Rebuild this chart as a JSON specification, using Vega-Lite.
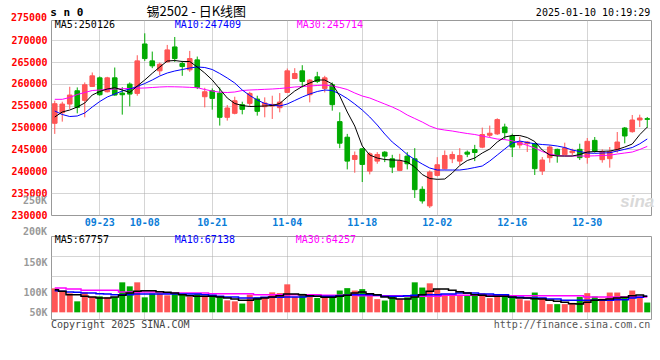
{
"$schema": "https://vega.github.io/schema/vega-lite/v6.json",
"padding": {"left": 10, "top": 5, "right": 5, "bottom": 5},
"background": "white",
"spacing": 21,
"bounds": "flush",
"config": {
  "view": {"stroke": "#999999", "strokeWidth": 1},
  "axis": {"labelFont": "DejaVu Sans Mono", "labelFontSize": 10, "labelFontWeight": "bold", "ticks": false, "domain": false, "gridColor": "#aaaaaa", "gridDash": [1, 1], "labelOverlap": false}
},
"datasets": {
"k": [
{"d":"09-11","o":251000,"h":256170,"l":248570,"c":255480,"v":100800,"m5":252436,"m10":253810,"m30":256489,"n5":95200,"n10":91000,"n30":102200},
{"d":"09-12","o":253430,"h":255940,"l":251380,"c":255400,"v":90300,"m5":253581,"m10":253009,"m30":256489,"n5":88200,"n10":88200,"n30":102200},
{"d":"09-13","o":255410,"h":259360,"l":254270,"c":257460,"v":79800,"m5":254039,"m10":252551,"m30":256902,"n5":74200,"n10":85400,"n30":98000},
{"d":"09-18","o":258450,"h":259210,"l":253280,"c":254650,"v":46200,"m5":254726,"m10":252665,"m30":257589,"n5":74200,"n10":84000,"n30":98000},
{"d":"09-19","o":256240,"h":260350,"l":252370,"c":259820,"v":84000,"m5":255642,"m10":253352,"m30":258047,"n5":67200,"n10":81200,"n30":92400},
{"d":"09-20","o":259440,"h":262630,"l":259360,"c":261870,"v":65100,"m5":257474,"m10":254726,"m30":258505,"n5":64400,"n10":81200,"n30":92400},
{"d":"09-23","o":261410,"h":261720,"l":257310,"c":257540,"v":67200,"m5":258276,"m10":255986,"m30":258619,"n5":60200,"n10":78400,"n30":92400},
{"d":"09-24","o":258220,"h":261640,"l":258070,"c":261410,"v":63000,"m5":258848,"m10":257016,"m30":258734,"n5":60200,"n10":77000,"n30":92400},
{"d":"09-25","o":261410,"h":263770,"l":257310,"c":257460,"v":63840,"m5":259146,"m10":257703,"m30":258848,"n5":64400,"n10":74200,"n30":92400},
{"d":"09-26","o":257920,"h":259280,"l":252980,"c":257540,"v":126000,"m5":258619,"m10":258390,"m30":258917,"n5":71400,"n10":74200,"n30":85400},
{"d":"09-27","o":259970,"h":260350,"l":254880,"c":257690,"v":109200,"m5":258047,"m10":258848,"m30":258963,"n5":81200,"n10":74200,"n30":85400},
{"d":"09-30","o":257840,"h":266580,"l":257310,"c":265290,"v":126000,"m5":259535,"m10":259421,"m30":259031,"n5":88200,"n10":77000,"n30":85400},
{"d":"10-08","o":269160,"h":271600,"l":265290,"c":265820,"v":63000,"m5":260909,"m10":260108,"m30":259077,"n5":91000,"n10":77000,"n30":85400},
{"d":"10-09","o":265290,"h":267420,"l":263620,"c":264150,"v":78960,"m5":262443,"m10":260909,"m30":259192,"n5":91000,"n10":77000,"n30":85400},
{"d":"10-10","o":263010,"h":264910,"l":262020,"c":264530,"v":78960,"m5":263886,"m10":261825,"m30":259306,"n5":86800,"n10":77000,"n30":85400},
{"d":"10-11","o":265060,"h":268940,"l":264910,"c":267800,"v":71400,"m5":265260,"m10":262512,"m30":259375,"n5":84000,"n10":77000,"n30":81200},
{"d":"10-14","o":268480,"h":270760,"l":265060,"c":265820,"v":76860,"m5":265375,"m10":262970,"m30":259352,"n5":81200,"n10":77000,"n30":81200},
{"d":"10-15","o":264680,"h":265290,"l":261870,"c":263990,"v":74340,"m5":265146,"m10":263314,"m30":259306,"n5":74200,"n10":77000,"n30":81200},
{"d":"10-16","o":263240,"h":267570,"l":262780,"c":265820,"v":66360,"m5":265146,"m10":263657,"m30":259237,"n5":70000,"n10":77000,"n30":81200},
{"d":"10-17","o":265520,"h":266280,"l":258830,"c":259210,"v":76860,"m5":263886,"m10":263886,"m30":259146,"n5":67200,"n10":77000,"n30":81200},
{"d":"10-18","o":257080,"h":259130,"l":254650,"c":258220,"v":69300,"m5":262512,"m10":263772,"m30":258734,"n5":67200,"n10":74200,"n30":81200},
{"d":"10-21","o":258450,"h":258980,"l":254120,"c":256700,"v":65100,"m5":260909,"m10":263314,"m30":258390,"n5":67200,"n10":71400,"n30":78400},
{"d":"10-22","o":257920,"h":259210,"l":250470,"c":252370,"v":65100,"m5":258848,"m10":262398,"m30":258115,"n5":64400,"n10":67200,"n30":78400},
{"d":"10-23","o":252370,"h":255180,"l":251610,"c":254500,"v":50400,"m5":256787,"m10":261367,"m30":258047,"n5":60200,"n10":64400,"n30":78400},
{"d":"10-24","o":253280,"h":257080,"l":253050,"c":256170,"v":46200,"m5":255528,"m10":260222,"m30":258161,"n5":56000,"n10":64400,"n30":78400},
{"d":"10-25","o":255260,"h":255940,"l":253050,"c":254190,"v":36960,"m5":255070,"m10":258619,"m30":258505,"n5":50400,"n10":60200,"n30":78400},
{"d":"10-28","o":255560,"h":258220,"l":254880,"c":257840,"v":74340,"m5":254841,"m10":257360,"m30":258619,"n5":50400,"n10":60200,"n30":78400},
{"d":"10-29","o":256550,"h":257310,"l":252750,"c":253740,"v":63000,"m5":254886,"m10":256329,"m30":258688,"n5":56000,"n10":60200,"n30":74200},
{"d":"10-30","o":254800,"h":256930,"l":252370,"c":255640,"v":63000,"m5":254955,"m10":255528,"m30":258779,"n5":60200,"n10":63000,"n30":74200},
{"d":"10-31","o":254950,"h":257310,"l":251990,"c":255330,"v":84000,"m5":255070,"m10":255184,"m30":258848,"n5":64400,"n10":63000,"n30":74200},
{"d":"11-01","o":254570,"h":257920,"l":253510,"c":255860,"v":81060,"m5":255528,"m10":254955,"m30":258963,"n5":70000,"n10":63000,"n30":74200},
{"d":"11-04","o":258070,"h":263540,"l":257920,"c":263010,"v":117600,"m5":257016,"m10":255413,"m30":259123,"n5":77000,"n10":64400,"n30":74200},
{"d":"11-05","o":261260,"h":263620,"l":261110,"c":262400,"v":65100,"m5":258390,"m10":256215,"m30":259306,"n5":77000,"n10":64400,"n30":74200},
{"d":"11-06","o":263010,"h":264300,"l":259210,"c":260580,"v":77700,"m5":259421,"m10":257016,"m30":259421,"n5":74200,"n10":64400,"n30":74200},
{"d":"11-07","o":257540,"h":261110,"l":255790,"c":260880,"v":75600,"m5":260222,"m10":257703,"m30":259535,"n5":70000,"n10":67200,"n30":74200},
{"d":"11-08","o":261640,"h":262780,"l":260200,"c":260580,"v":60060,"m5":260909,"m10":258276,"m30":259650,"n5":67200,"n10":67200,"n30":74200},
{"d":"11-11","o":258980,"h":261870,"l":258070,"c":261410,"v":65100,"m5":260909,"m10":258619,"m30":259764,"n5":63000,"n10":67200,"n30":71400},
{"d":"11-12","o":259820,"h":260350,"l":253890,"c":255260,"v":65100,"m5":259993,"m10":258505,"m30":259535,"n5":63000,"n10":67200,"n30":71400},
{"d":"11-13","o":251380,"h":253510,"l":245300,"c":246440,"v":91560,"m5":257245,"m10":257703,"m30":259192,"n5":67200,"n10":70000,"n30":71400},
{"d":"11-14","o":247810,"h":248570,"l":240440,"c":242340,"v":101640,"m5":253581,"m10":256673,"m30":258734,"n5":71400,"n10":71400,"n30":71400},
{"d":"11-15","o":242720,"h":244540,"l":239680,"c":243630,"v":91560,"m5":250375,"m10":255413,"m30":257932,"n5":81200,"n10":74200,"n30":71400},
{"d":"11-18","o":245150,"h":245300,"l":237550,"c":241580,"v":97440,"m5":245795,"m10":254039,"m30":257245,"n5":85400,"n10":74200,"n30":70000},
{"d":"11-19","o":240060,"h":244390,"l":239300,"c":244010,"v":72240,"m5":243734,"m10":252436,"m30":256787,"n5":78400,"n10":74200,"n30":70000},
{"d":"11-20","o":242340,"h":244390,"l":241730,"c":243860,"v":55440,"m5":243047,"m10":250604,"m30":256100,"n5":74200,"n10":71400,"n30":70000},
{"d":"11-21","o":244390,"h":244620,"l":242110,"c":243480,"v":49560,"m5":242704,"m10":248543,"m30":255413,"n5":64400,"n10":67200,"n30":70000},
{"d":"11-22","o":242870,"h":243780,"l":239600,"c":240970,"v":65100,"m5":242589,"m10":246711,"m30":254726,"n5":60200,"n10":67200,"n30":70000},
{"d":"11-25","o":240210,"h":244010,"l":240060,"c":242340,"v":55440,"m5":242543,"m10":245337,"m30":253925,"n5":56000,"n10":67200,"n30":70000},
{"d":"11-26","o":243480,"h":244390,"l":240440,"c":241730,"v":63000,"m5":242131,"m10":243849,"m30":252894,"n5":56000,"n10":70000,"n30":67200},
{"d":"11-27","o":242870,"h":245300,"l":233900,"c":235800,"v":126000,"m5":240986,"m10":242704,"m30":252093,"n5":64400,"n10":71400,"n30":67200},
{"d":"11-28","o":235880,"h":236560,"l":232610,"c":233220,"v":104160,"m5":239268,"m10":241673,"m30":251291,"n5":74200,"n10":74200,"n30":67200},
{"d":"11-29","o":232080,"h":240210,"l":231620,"c":239830,"v":121800,"m5":238352,"m10":240757,"m30":250375,"n5":88200,"n10":74200,"n30":67200},
{"d":"12-02","o":239070,"h":243250,"l":238840,"c":241500,"v":97440,"m5":238169,"m10":240299,"m30":249734,"n5":98000,"n10":74200,"n30":67200},
{"d":"12-03","o":240590,"h":244770,"l":240440,"c":243630,"v":73500,"m5":238238,"m10":240299,"m30":249459,"n5":98000,"n10":77000,"n30":71400},
{"d":"12-04","o":242870,"h":244540,"l":241880,"c":243860,"v":75600,"m5":239612,"m10":240299,"m30":249230,"n5":92400,"n10":77000,"n30":71400},
{"d":"12-05","o":242340,"h":245300,"l":241350,"c":243630,"v":73500,"m5":241329,"m10":240299,"m30":248932,"n5":86800,"n10":81200,"n30":71400},
{"d":"12-06","o":244390,"h":244770,"l":243250,"c":243930,"v":72240,"m5":242474,"m10":240528,"m30":248658,"n5":81200,"n10":81200,"n30":71400},
{"d":"12-09","o":245000,"h":246060,"l":242340,"c":244310,"v":72240,"m5":243047,"m10":240872,"m30":248429,"n5":74200,"n10":81200,"n30":71400},
{"d":"12-10","o":245530,"h":250010,"l":245300,"c":248420,"v":79800,"m5":244192,"m10":241215,"m30":248085,"n5":71400,"n10":77000,"n30":71400},
{"d":"12-11","o":248260,"h":250470,"l":247810,"c":248720,"v":59640,"m5":245108,"m10":242360,"m30":247742,"n5":67200,"n10":77000,"n30":71400},
{"d":"12-12","o":248570,"h":252140,"l":248340,"c":251840,"v":73500,"m5":246711,"m10":243734,"m30":247398,"n5":67200,"n10":74200,"n30":71400},
{"d":"12-13","o":250150,"h":250910,"l":247320,"c":248850,"v":68040,"m5":247856,"m10":245108,"m30":247261,"n5":67200,"n10":74200,"n30":71400},
{"d":"12-16","o":248090,"h":248620,"l":243280,"c":245570,"v":63000,"m5":248199,"m10":246482,"m30":246986,"n5":64400,"n10":63000,"n30":70000},
{"d":"12-17","o":246030,"h":247930,"l":245260,"c":246710,"v":55440,"m5":248199,"m10":246940,"m30":246482,"n5":60200,"n10":63000,"n30":70000},
{"d":"12-18","o":246330,"h":246940,"l":244420,"c":246720,"v":49560,"m5":247741,"m10":246597,"m30":245955,"n5":60200,"n10":60200,"n30":70000},
{"d":"12-19","o":246330,"h":246560,"l":239160,"c":240610,"v":83160,"m5":246825,"m10":246322,"m30":245337,"n5":57400,"n10":60200,"n30":70000},
{"d":"12-20","o":240070,"h":243280,"l":239160,"c":242590,"v":61740,"m5":244879,"m10":246139,"m30":244536,"n5":56000,"n10":60200,"n30":70000},
{"d":"12-23","o":243130,"h":245950,"l":241980,"c":245570,"v":34440,"m5":243734,"m10":246024,"m30":243963,"n5":50400,"n10":56000,"n30":70000},
{"d":"12-24","o":245030,"h":245190,"l":241980,"c":243740,"v":34440,"m5":243505,"m10":245795,"m30":243620,"n5":46200,"n10":56000,"n30":70000},
{"d":"12-25","o":243810,"h":246560,"l":243740,"c":245340,"v":34440,"m5":243505,"m10":245452,"m30":243505,"n5":42000,"n10":50400,"n30":70000},
{"d":"12-26","o":244270,"h":245190,"l":243660,"c":244650,"v":39900,"m5":243505,"m10":244879,"m30":243505,"n5":36400,"n10":50400,"n30":70000},
{"d":"12-27","o":245030,"h":246330,"l":242590,"c":243130,"v":65100,"m5":243848,"m10":244536,"m30":243505,"n5":35000,"n10":50400,"n30":70000},
{"d":"12-30","o":243200,"h":247630,"l":241750,"c":246870,"v":80640,"m5":244421,"m10":244192,"m30":243505,"n5":42000,"n10":50400,"n30":64400},
{"d":"12-31","o":247090,"h":247860,"l":244270,"c":244650,"v":66360,"m5":244536,"m10":244123,"m30":243551,"n5":50400,"n10":50400,"n30":64400},
{"d":"01-02","o":242670,"h":245030,"l":241980,"c":244500,"v":57540,"m5":244581,"m10":244192,"m30":243620,"n5":53200,"n10":50400,"n30":64400},
{"d":"01-03","o":242900,"h":245570,"l":240840,"c":244500,"v":83160,"m5":244650,"m10":244261,"m30":243688,"n5":56000,"n10":50400,"n30":64400},
{"d":"01-06","o":244880,"h":249000,"l":244270,"c":246710,"v":83160,"m5":244993,"m10":244650,"m30":243963,"n5":60200,"n10":53200,"n30":64400},
{"d":"01-07","o":249920,"h":250150,"l":246410,"c":248090,"v":63000,"m5":245566,"m10":245039,"m30":244192,"n5":63000,"n10":53200,"n30":64400},
{"d":"01-08","o":249080,"h":252900,"l":248850,"c":251750,"v":91560,"m5":246253,"m10":245452,"m30":244421,"n5":70000,"n10":60200,"n30":64400},
{"d":"01-09","o":251750,"h":252970,"l":250150,"c":252210,"v":64260,"m5":248400,"m10":246300,"m30":245000,"n5":72800,"n10":63000,"n30":64400},
{"d":"01-10","o":252060,"h":252440,"l":250000,"c":251900,"v":41160,"m5":250126,"m10":247409,"m30":245714,"n5":67757,"n10":67138,"n30":64257}
]
},
"vconcat": [
{
  "width": 600,
  "height": 195,
  "data": {"name": "k"},
  "encoding": {
    "x": {"field": "d", "type": "ordinal", "title": null,
      "scale": {"type": "band", "paddingInner": 0, "paddingOuter": 0, "domain": ["09-11","09-12","09-13","09-18","09-19","09-20","09-23","09-24","09-25","09-26","09-27","09-30","10-08","10-09","10-10","10-11","10-14","10-15","10-16","10-17","10-18","10-21","10-22","10-23","10-24","10-25","10-28","10-29","10-30","10-31","11-01","11-04","11-05","11-06","11-07","11-08","11-11","11-12","11-13","11-14","11-15","11-18","11-19","11-20","11-21","11-22","11-25","11-26","11-27","11-28","11-29","12-02","12-03","12-04","12-05","12-06","12-09","12-10","12-11","12-12","12-13","12-16","12-17","12-18","12-19","12-20","12-23","12-24","12-25","12-26","12-27","12-30","12-31","01-02","01-03","01-06","01-07","01-08","01-09","01-10"]},
      "axis": {"values": ["09-23","10-08","10-21","11-04","11-18","12-02","12-16","12-30"], "labelAngle": 0, "labelColor": "#0a7cd8", "labelPadding": 2, "grid": true, "bandPosition": 0.5}}
  },
  "layer": [
    {"mark": {"type": "rule", "strokeWidth": 1},
     "encoding": {
       "y": {"field": "l", "type": "quantitative", "title": null,
         "scale": {"domain": [230000, 274650], "nice": false, "zero": false},
         "axis": {"values": [230000,235000,240000,245000,250000,255000,260000,265000,270000], "tickCount": 40, "format": "d", "labelColor": "#ff0000", "labelPadding": 4, "grid": true,
           "gridOpacity": {"condition": {"test": "datum.value < 232000", "value": 0}, "value": 1}}},
       "y2": {"field": "h"},
       "color": {"condition": {"test": "datum.c >= datum.o", "value": "#ff5555"}, "value": "#00aa00"}
     }},
    {"mark": {"type": "bar", "size": 4.6, "strokeWidth": 1},
     "encoding": {
       "y": {"field": "o", "type": "quantitative", "title": null},
       "y2": {"field": "c"},
       "color": {"condition": {"test": "datum.c >= datum.o", "value": "#ff5555"}, "value": "#00aa00"},
       "stroke": {"condition": {"test": "datum.c >= datum.o", "value": "#ff5555"}, "value": "#00aa00"}
     }},
    {"mark": {"type": "line", "color": "#ff00ff", "strokeWidth": 1},
     "encoding": {"y": {"field": "m30", "type": "quantitative", "title": null}}},
    {"mark": {"type": "line", "color": "#0000ff", "strokeWidth": 1},
     "encoding": {"y": {"field": "m10", "type": "quantitative", "title": null}}},
    {"mark": {"type": "line", "color": "#000000", "strokeWidth": 1},
     "encoding": {"y": {"field": "m5", "type": "quantitative", "title": null}}},
    {"data": {"values": [{"t": "275000"}]},
     "mark": {"type": "text", "align": "right", "baseline": "middle", "font": "DejaVu Sans Mono", "fontSize": 10, "fontWeight": "bold", "color": "#ff0000", "dx": -7.75},
     "encoding": {"x": {"datum": "09-11", "type": "ordinal"}, "y": {"datum": 275000, "type": "quantitative"}, "text": {"field": "t", "type": "nominal"}}},
    {"data": {"values": [{"t": "s n 0"}]},
     "mark": {"type": "text", "align": "left", "baseline": "middle", "font": "DejaVu Sans Mono", "fontSize": 11, "fontWeight": "bold", "color": "#000000", "dx": -4.5},
     "encoding": {"x": {"datum": "09-11", "type": "ordinal"}, "y": {"datum": 276252, "type": "quantitative"}, "text": {"field": "t", "type": "nominal"}}},
    {"data": {"values": [{"t": "锡2502 - 日K线图"}]},
     "mark": {"type": "text", "align": "center", "baseline": "middle", "font": "Noto Sans CJK SC", "fontSize": 13, "color": "#000000", "dx": -1},
     "encoding": {"x": {"datum": "10-17", "type": "ordinal"}, "y": {"datum": 276370, "type": "quantitative"}, "text": {"field": "t", "type": "nominal"}}},
    {"data": {"values": [{"t": "2025-01-10 10:19:29"}]},
     "mark": {"type": "text", "align": "right", "baseline": "middle", "font": "DejaVu Sans Mono", "fontSize": 10, "color": "#000000", "dx": 3},
     "encoding": {"x": {"datum": "01-10", "type": "ordinal"}, "y": {"datum": 276252, "type": "quantitative"}, "text": {"field": "t", "type": "nominal"}}},
    {"data": {"values": [{"t": "MA5:250126"}]},
     "mark": {"type": "text", "align": "left", "baseline": "middle", "font": "DejaVu Sans Mono", "fontSize": 10, "color": "#000000"},
     "encoding": {"x": {"datum": "09-11", "type": "ordinal"}, "y": {"datum": 273600, "type": "quantitative"}, "text": {"field": "t", "type": "nominal"}}},
    {"data": {"values": [{"t": "MA10:247409"}]},
     "mark": {"type": "text", "align": "left", "baseline": "middle", "font": "DejaVu Sans Mono", "fontSize": 10, "color": "#0000ff"},
     "encoding": {"x": {"datum": "10-14", "type": "ordinal"}, "y": {"datum": 273600, "type": "quantitative"}, "text": {"field": "t", "type": "nominal"}}},
    {"data": {"values": [{"t": "MA30:245714"}]},
     "mark": {"type": "text", "align": "left", "baseline": "middle", "font": "DejaVu Sans Mono", "fontSize": 10, "color": "#ff00ff", "dx": 2},
     "encoding": {"x": {"datum": "11-05", "type": "ordinal"}, "y": {"datum": 273600, "type": "quantitative"}, "text": {"field": "t", "type": "nominal"}}},
    {"data": {"values": [{"t": "sina"}]},
     "mark": {"type": "text", "align": "left", "baseline": "middle", "font": "Liberation Sans", "fontSize": 17, "fontWeight": "bold", "fontStyle": "italic", "color": "#d9d9d9", "dx": 3},
     "encoding": {"x": {"datum": "01-06", "type": "ordinal"}, "y": {"datum": 232971, "type": "quantitative"}, "text": {"field": "t", "type": "nominal"}}}
  ]
},
{
  "width": 600,
  "height": 83,
  "data": {"name": "k"},
  "encoding": {
    "x": {"field": "d", "type": "ordinal", "title": null,
      "scale": {"type": "band", "paddingInner": 0, "paddingOuter": 0, "domain": ["09-11","09-12","09-13","09-18","09-19","09-20","09-23","09-24","09-25","09-26","09-27","09-30","10-08","10-09","10-10","10-11","10-14","10-15","10-16","10-17","10-18","10-21","10-22","10-23","10-24","10-25","10-28","10-29","10-30","10-31","11-01","11-04","11-05","11-06","11-07","11-08","11-11","11-12","11-13","11-14","11-15","11-18","11-19","11-20","11-21","11-22","11-25","11-26","11-27","11-28","11-29","12-02","12-03","12-04","12-05","12-06","12-09","12-10","12-11","12-12","12-13","12-16","12-17","12-18","12-19","12-20","12-23","12-24","12-25","12-26","12-27","12-30","12-31","01-02","01-03","01-06","01-07","01-08","01-09","01-10"]},
      "axis": {"values": ["09-23","10-08","10-21","11-04","11-18","12-02","12-16","12-30"], "labels": false, "grid": true, "bandPosition": 0.5}}
  },
  "layer": [
    {"mark": {"type": "bar", "size": 6},
     "encoding": {
       "y": {"field": "v", "type": "quantitative", "title": null,
         "scale": {"domain": [-28000, 320600], "nice": false, "zero": false},
         "axis": {"values": [0, 84000, 151200, 210000, 235200], "tickCount": 40, "labelColor": "#999999", "labelPadding": 4, "grid": true,
           "labelExpr": "datum.value == 0 ? '50K' : datum.value == 84000 ? '100K' : datum.value == 210000 ? '150K' : ''",
           "gridOpacity": {"condition": {"test": "datum.value == 151200 || datum.value == 235200", "value": 1}, "value": 0}}},
       "y2": {"datum": 0},
       "color": {"condition": {"test": "datum.c >= datum.o", "value": "#ff5555"}, "value": "#00aa00"}
     }},
    {"mark": {"type": "line", "color": "#ff00ff", "strokeWidth": 1.5, "interpolate": "step"},
     "encoding": {"y": {"field": "n30", "type": "quantitative", "title": null}}},
    {"mark": {"type": "line", "color": "#0000ff", "strokeWidth": 1.5, "interpolate": "step"},
     "encoding": {"y": {"field": "n10", "type": "quantitative", "title": null}}},
    {"mark": {"type": "line", "color": "#000000", "strokeWidth": 1.5, "interpolate": "step"},
     "encoding": {"y": {"field": "n5", "type": "quantitative", "title": null}}},
    {"data": {"values": [{"t": "MA5:67757"}]},
     "mark": {"type": "text", "align": "left", "baseline": "middle", "font": "DejaVu Sans Mono", "fontSize": 10, "color": "#000000"},
     "encoding": {"x": {"datum": "09-11", "type": "ordinal"}, "y": {"datum": 304500, "type": "quantitative"}, "text": {"field": "t", "type": "nominal"}}},
    {"data": {"values": [{"t": "MA10:67138"}]},
     "mark": {"type": "text", "align": "left", "baseline": "middle", "font": "DejaVu Sans Mono", "fontSize": 10, "color": "#0000ff"},
     "encoding": {"x": {"datum": "10-14", "type": "ordinal"}, "y": {"datum": 304500, "type": "quantitative"}, "text": {"field": "t", "type": "nominal"}}},
    {"data": {"values": [{"t": "MA30:64257"}]},
     "mark": {"type": "text", "align": "left", "baseline": "middle", "font": "DejaVu Sans Mono", "fontSize": 10, "color": "#ff00ff", "dx": 1},
     "encoding": {"x": {"datum": "11-05", "type": "ordinal"}, "y": {"datum": 304500, "type": "quantitative"}, "text": {"field": "t", "type": "nominal"}}},
    {"data": {"values": [{"t": "200K"}]},
     "mark": {"type": "text", "align": "right", "baseline": "middle", "font": "DejaVu Sans Mono", "fontSize": 10, "fontWeight": "bold", "color": "#999999", "dx": -7.75},
     "encoding": {"x": {"datum": "09-11", "type": "ordinal"}, "y": {"datum": 336000, "type": "quantitative"}, "text": {"field": "t", "type": "nominal"}}},
    {"data": {"values": [{"t": "250K"}]},
     "mark": {"type": "text", "align": "right", "baseline": "middle", "font": "DejaVu Sans Mono", "fontSize": 10, "fontWeight": "bold", "color": "#999999", "dx": -7.75},
     "encoding": {"x": {"datum": "09-11", "type": "ordinal"}, "y": {"datum": 466200, "type": "quantitative"}, "text": {"field": "t", "type": "nominal"}}},
    {"data": {"values": [{"t": "Copyright 2025 SINA.COM"}]},
     "mark": {"type": "text", "align": "left", "baseline": "middle", "font": "DejaVu Sans Mono", "fontSize": 10, "color": "#444444", "dx": -3.75},
     "encoding": {"x": {"datum": "09-11", "type": "ordinal"}, "y": {"datum": -54600, "type": "quantitative"}, "text": {"field": "t", "type": "nominal"}}},
    {"data": {"values": [{"t": "http://finance.sina.com.cn"}]},
     "mark": {"type": "text", "align": "right", "baseline": "middle", "font": "DejaVu Sans Mono", "fontSize": 10, "color": "#555555", "dx": 3},
     "encoding": {"x": {"datum": "01-10", "type": "ordinal"}, "y": {"datum": -54600, "type": "quantitative"}, "text": {"field": "t", "type": "nominal"}}}
  ]
}
]
}
